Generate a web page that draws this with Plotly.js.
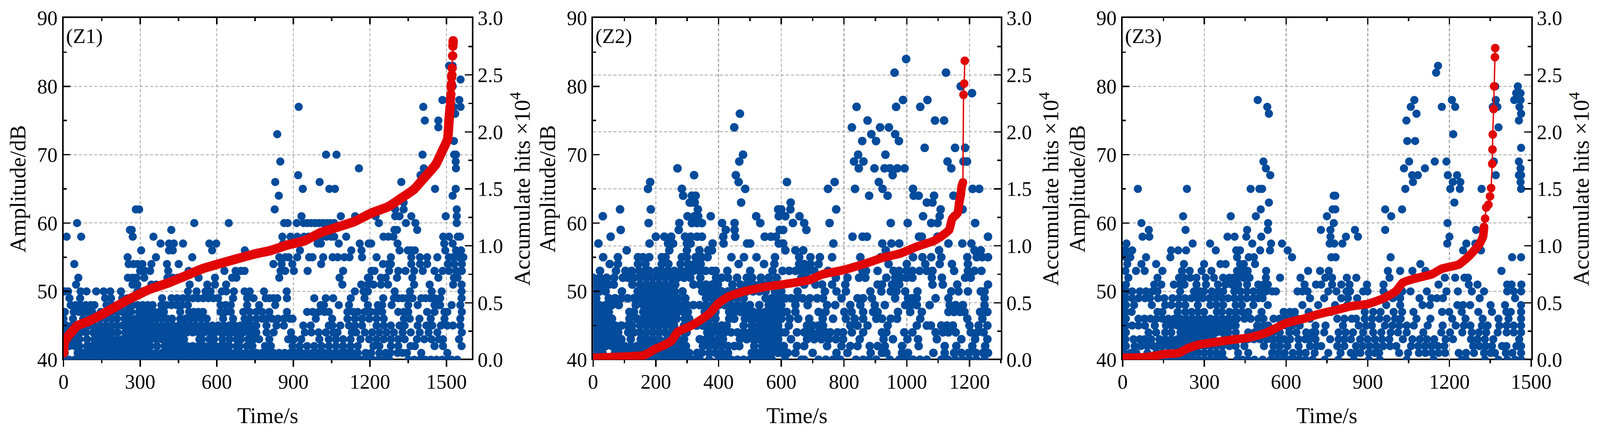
<!DOCTYPE html>
<html><head><meta charset="utf-8"><script src="https://cdn.plot.ly/plotly-3.0.1.min.js"></script>
<style>html,body{margin:0;padding:0;background:#fff;overflow:hidden}#c{width:100vw;height:1115px;display:block}</style></head>
<body><div id="c"></div>
<script>
// ---- Panel Z1: event times (s) per amplitude level (dB)
const a1_40=[0,22,44,66,88,110,132,154,176,198,220,242,264,286,308,330,352,374,396,418,440,462,484,506,528,550,572,594,616,638,660,682,704,726,748,770,792,814,836,858,880,902,924,946,968,990,1012,1034,1056,1078,1100,1122,1144,1166,1188,1210,1232,1254,1276,1351,1373,1395,1417,1439,1461,1483,1505,1520,1542];
const a1_41=[5,55,77,99,121,143,165,187,209,231,253,275,297,319,341,363,385,407,429,451,473,495,517,539,561,583,605,627,649,671,693,715,737,756,778,800,822,844,866,888,910,932,954,976,998,1020,1042,1064,1086,1108,1130,1152,1183,1205,1237,1262,1280,1308,1328,1345,1401,1503];
const a1_42=[0,22,44,62,92,110,132,154,176,198,220,242,264,286,308,330,340,366,396,418,440,462,484,506,528,550,572,594,616,638,650,678,690,718,740,789,812,897,925,954,982,1010,1039,1067,1095,1124,1152,1214,1237,1282,1311,1359,1376,1453,1486,1559];
const a1_43=[11,33,55,62,92,121,143,165,187,209,231,253,275,297,319,341,363,385,407,429,451,472,532,541,571,590,622,650,678,695,724,744,766,806,880,903,931,1002,1039,1067,1095,1124,1163,1197,1226,1254,1282,1311,1336,1384,1413,1441,1470,1486,1549];
const a1_44=[0,22,44,66,88,116,132,154,176,190,212,242,264,286,308,330,352,374,392,416,440,462,484,506,528,550,572,594,616,638,660,682,704,726,740,755,795,823,891,945,971,999,1027,1056,1073,1129,1146,1180,1209,1237,1265,1294,1328,1360,1395,1430,1464,1560];
const a1_45=[11,33,55,77,99,121,143,165,187,209,231,253,275,297,319,341,363,385,407,429,451,473,495,517,539,561,583,605,627,649,671,693,715,737,755,795,834,863,939,968,1039,1053,1084,1118,1141,1169,1226,1254,1282,1316,1336,1387,1421,1444,1478,1503,1525,1554];
const a1_46=[0,37,77,100,122,144,166,188,210,240,262,284,306,329,345,365,385,405,425,457,477,497,517,540,561,625,664,709,729,755,778,795,817,840,863,886,897,988,1052,1112,1141,1169,1197,1226,1254,1333,1356,1394,1438,1492,1554];
const a1_47=[5,40,60,78,96,112,146,190,210,230,250,265,295,315,335,355,375,393,457,492,510,528,546,615,635,655,704,729,755,778,806,875,954,976,999,1022,1039,1112,1135,1152,1180,1203,1226,1248,1311,1333,1350,1424,1453,1492,1503,1560];
const a1_48=[28,47,67,87,107,121,168,190,210,230,250,270,290,310,330,349,383,403,423,443,463,487,615,635,655,719,766,829,1007,1020,1078,1118,1192,1231,1248,1285,1350,1387,1453,1470,1475,1520,1554];
const a1_49=[23,65,163,186,230,250,270,386,423,445,467,487,507,527,547,567,587,605,664,719,744,792,806,822,837,875,982,1027,1056,1125,1179,1252,1294,1311,1328,1345,1367,1401,1418,1436,1453,1475,1559];
const a1_50=[5,18,67,90,128,157,183,225,289,305,320,487,521,556,576,620,637,667,709,729,785,874,1141,1175,1192,1297,1357,1442,1481,1559];
const a1_51=[49,270,289,344,363,393,494,563,593,637,1092,1166,1192,1214,1243,1271,1373,1434,1526,1559];
const a1_52=[58,252,270,285,316,407,428,447,467,529,593,660,677,845,1081,1192,1198,1243,1262,1306,1366,1468,1529,1543];
const a1_53=[300,319,339,410,490,630,674,694,709,850,868,902,956,1095,1206,1218,1275,1311,1339,1373,1407,1453,1485,1510,1538,1560];
const a1_54=[42,255,274,290,309,344,405,451,623,822,854,896,1009,1251,1272,1282,1362,1396,1424,1505,1530,1560];
const a1_55=[251,362,504,704,845,869,882,915,962,975,1017,1054,1074,1100,1120,1169,1226,1282,1362,1396,1424,1464,1509,1526,1549,1566];
const a1_56=[304,413,428,582,710,926,1127,1167,1316,1348,1361,1376,1495,1537,1557];
const a1_57=[380,413,432,468,571,598,860,995,1008,1078,1160,1195,1205,1308,1491,1524];
const a1_58=[12,69,271,352,857,889,915,942,960,978,995,1012,1030,1048,1060,1107,1253,1272,1292,1487,1510,1544,1553];
const a1_59=[260,267,422,1296,1306,1385];
const a1_60=[53,512,647,864,878,913,940,955,970,985,1000,1015,1030,1045,1060,1235,1341,1378,1540];
const a1_61=[932,1086,1142,1222,1299,1316,1362,1497,1540];
const a1_62=[283,296,827,1299,1332,1540];
const a1_63=[1332];
const a1_64=[843,1524];
const a1_65=[937,1041,1063,1455,1536];
const a1_66=[829,1003,1323];
const a1_67=[919,1398];
const a1_68=[1157,1411,1537];
const a1_69=[849,1536];
const a1_70=[1028,1069,1406,1530,1537];
const a1_71=[];
const a1_72=[1529];
const a1_73=[837];
const a1_74=[1468];
const a1_75=[1415,1468];
const a1_76=[1534];
const a1_77=[921,1409,1528,1555];
const a1_78=[1484,1550];
const a1_79=[];
const a1_80=[1524];
const a1_81=[1555];
const a1_82=[];
const a1_83=[1510,1524];
const z1Rows=[a1_40,a1_41,a1_42,a1_43,a1_44,a1_45,a1_46,a1_47,a1_48,a1_49,a1_50,a1_51,a1_52,a1_53,a1_54,a1_55,a1_56,a1_57,a1_58,a1_59,a1_60,a1_61,a1_62,a1_63,a1_64,a1_65,a1_66,a1_67,a1_68,a1_69,a1_70,a1_71,a1_72,a1_73,a1_74,a1_75,a1_76,a1_77,a1_78,a1_79,a1_80,a1_81,a1_82,a1_83];
const z1BandTime=[0,3,12,55,95,148,200,247,300,333,413,492,545,598,677,757,810,876,942,1008,1074,1140,1206,1272,1325,1372,1411,1458,1484,1504,1510,1514];
const z1BandHits=[0.06,0.15,0.19,0.30,0.335,0.395,0.46,0.52,0.58,0.615,0.677,0.75,0.80,0.835,0.885,0.933,0.958,1.007,1.043,1.117,1.165,1.214,1.288,1.344,1.422,1.495,1.593,1.715,1.837,1.935,2.106,2.216];
const z1TopTime=[1514,1515,1516,1517,1518,1519,1520,1521,1522,1524,1525,1526,1526];
const z1TopHits=[2.216,2.26,2.30,2.33,2.39,2.42,2.48,2.50,2.56,2.668,2.753,2.78,2.80];

// ---- Panel Z2
const a2_40=[0,20,40,60,80,100,120,140,160,180,200,220,240,260,280,300,320,340,370,400,420,440,460,480,500,520,540,560,570,612,664,673,719,742,765,788,838,861,880,903,946,976,998,1020,1042,1064,1110,1132,1155,1178,1200,1222,1248];
const a2_41=[10,30,70,90,110,130,150,170,190,210,230,250,270,290,306,332,346,370,390,410,430,506,510,530,550,570,590,604,620,645,700,776,811,885,921,935,985,1004,1085,1121,1151,1174,1197,1220,1243,1259];
const a2_42=[0,20,40,60,80,100,120,140,160,180,200,220,240,260,280,296,350,370,390,410,430,450,466,514,540,560,580,600,608,650,673,746,792,820,843,882,907,930,985,1038,1121,1158,1209,1250];
const a2_43=[10,30,50,70,90,120,152,170,190,210,236,250,270,290,340,360,376,398,414,468,490,510,530,550,570,590,631,682,705,728,751,774,797,850,926,956,1002,1036,1096,1174,1218,1257];
const a2_44=[0,20,40,60,80,112,130,150,170,190,210,230,250,270,290,298,364,380,400,420,440,460,480,500,520,540,560,580,600,613,650,673,696,719,742,756,779,797,825,861,921,935,992,1018,1092,1115,1133,1156,1204,1225,1245];
const a2_45=[10,30,50,70,90,110,124,150,170,190,210,230,250,258,290,310,330,350,370,390,410,426,480,506,530,550,570,590,624,682,700,719,733,820,843,875,939,1032,1064,1077,1110,1128,1147,1200,1229,1257];
const a2_46=[0,20,40,60,116,140,160,180,200,220,240,260,266,292,306,352,370,390,434,450,484,500,520,540,560,580,600,627,654,689,732,765,806,834,861,903,921,949,969,1043,1193,1241];
const a2_47=[10,30,50,116,130,160,170,190,210,230,250,270,290,302,356,370,390,434,450,470,490,510,530,550,570,590,604,617,645,719,741,801,824,861,893,907,972,1011,1048,1133,1151,1170,1184,1234,1257];
const a2_48=[0,20,40,60,82,136,160,180,200,220,240,260,280,300,320,340,360,380,400,420,440,460,480,500,530,560,580,600,645,684,746,772,820,852,898,930,995,1013,1032,1073,1137,1156,1179,1248];
const a2_49=[10,50,70,90,110,130,150,170,190,210,230,250,270,294,360,380,400,420,440,460,480,550,570,590,613,631,650,668,691,714,733,792,843,861,889,963,1004,1018,1032,1092,1133,1248];
const a2_50=[0,20,40,92,142,160,180,200,220,240,260,285,348,370,390,410,430,450,470,490,510,530,550,580,600,652,739,776,806,884,919,949,967,995,1034,1142,1165,1195,1236,1248];
const a2_51=[10,30,50,66,125,150,170,190,210,230,250,262,320,340,360,380,398,444,470,490,510,530,550,570,590,673,709,730,762,804,907,921,953,976,1082,1115,1161,1259];
const a2_52=[0,22,43,67,95,111,130,150,170,190,210,230,250,270,290,310,342,392,410,430,459,490,507,535,560,585,664,680,774,811,848,868,935,963,981,999,1018,1080,1112,1186,1204];
const a2_53=[22,73,103,123,147,167,179,203,219,239,259,279,299,319,339,359,379,391,428,501,572,604,625,645,664,686,705,749,859,870,907,958,976,999,1018,1041,1064,1082,1151,1195,1216,1238];
const a2_54=[53,79,143,167,219,240,279,303,323,343,464,545,578,657,673,693,719,942,1000,1059,1105,1144,1195];
const a2_55=[32,79,143,159,179,219,231,283,299,327,347,365,441,481,521,580,657,693,723,762,852,917,1020,1050,1078,1110,1193,1223,1241,1259];
const a2_56=[107,243,299,339,367,379,613,645,670,933,1103,1216,1236];
const a2_57=[17,180,239,255,299,311,381,416,491,501,592,606,766,922,951,976,1133,1177,1206];
const a2_58=[56,200,227,249,293,311,331,347,415,453,547,567,583,827,859,873,1039,1048,1098,1259];
const a2_59=[88,273,423,451,595,606,680];
const a2_60=[177,275,315,331,347,411,451,533,637,673,754,949,1003,1078,1098,1218];
const a2_61=[31,301,323,335,375,520,592,613,658,1052,1105,1151];
const a2_62=[86,184,334,590,600,629,775,1108,1174,1178];
const a2_63=[308,313,324,472,630,1064,1082,1167];
const a2_64=[287,315,327,880,939,1022,1038,1087,1149];
const a2_65=[175,283,485,749,835,923,1020,1210,1231];
const a2_66=[182,464,618,770,911];
const a2_67=[322,455,955];
const a2_68=[269,847,897,929,947,970,993,1142];
const a2_69=[466,832,862,1130,1181,1192];
const a2_70=[478,845,932];
const a2_71=[1057,1154,1186];
const a2_72=[858,902,975];
const a2_73=[887,963];
const a2_74=[450,825,915,943];
const a2_75=[875,1090,1119];
const a2_76=[468];
const a2_77=[840,966,1043];
const a2_78=[988,1066];
const a2_79=[1208];
const a2_80=[1172];
const a2_81=[];
const a2_82=[961,1125];
const a2_83=[];
const a2_84=[998];
const z2Rows=[a2_40,a2_41,a2_42,a2_43,a2_44,a2_45,a2_46,a2_47,a2_48,a2_49,a2_50,a2_51,a2_52,a2_53,a2_54,a2_55,a2_56,a2_57,a2_58,a2_59,a2_60,a2_61,a2_62,a2_63,a2_64,a2_65,a2_66,a2_67,a2_68,a2_69,a2_70,a2_71,a2_72,a2_73,a2_74,a2_75,a2_76,a2_77,a2_78,a2_79,a2_80,a2_81,a2_82,a2_83,a2_84];
const z2BandTime=[0,67,120,163,195,228,249,270,303,335,372,399,432,485,550,614,689,732,797,872,925,979,1033,1086,1108,1135,1145,1162,1167,1172,1175,1179];
const z2BandHits=[0.017,0.024,0.03,0.04,0.09,0.13,0.164,0.244,0.286,0.335,0.408,0.494,0.555,0.603,0.64,0.665,0.70,0.75,0.787,0.848,0.897,0.933,0.994,1.043,1.08,1.14,1.239,1.288,1.373,1.446,1.52,1.556];
const z2TopTime=[1179,1181,1183,1185];
const z2TopHits=[1.556,2.326,2.424,2.624];

// ---- Panel Z3
const a3_40=[0,20,40,60,80,100,120,140,160,180,200,220,240,260,280,300,320,340,360,373,420,440,460,484,514,544,566,588,610,632,650,672,697,742,792,849,904,944,1043,1142,1245,1261,1330,1380,1412,1441,1463];
const a3_41=[5,30,50,91,124,146,168,190,212,234,256,278,300,322,344,366,424,461,549,572,595,625,650,672,705,755,800,838,857,873,904,926,942,1015,1048,1088,1112,1136,1160,1184,1234,1261,1290,1327,1351,1367,1407,1431,1463];
const a3_42=[0,12,44,67,90,113,128,146,168,190,212,234,256,278,300,322,344,366,392,415,447,519,554,577,605,646,688,713,729,788,814,857,882,907,932,957,982,1005,1059,1085,1109,1133,1157,1181,1287,1310,1333,1356,1393,1409,1446,1463];
const a3_43=[0,10,40,63,81,105,135,157,179,201,223,245,267,289,311,333,373,395,420,438,460,482,504,530,549,571,593,615,646,670,685,708,762,793,814,838,872,899,926,952,979,1029,1064,1091,1117,1144,1186,1213,1279,1303,1330,1361,1456];
const a3_44=[0,12,95,123,156,179,212,234,256,278,300,322,344,366,388,415,461,484,507,530,553,577,612,638,674,697,708,740,793,819,846,883,920,950,984,1011,1043,1104,1170,1202,1247,1282,1308,1335,1377,1410,1436,1463];
const a3_45=[0,12,35,58,82,118,159,179,201,223,245,267,289,311,333,355,377,399,415,494,517,535,577,600,623,650,708,745,809,867,894,915,963,990,1016,1043,1069,1120,1175,1223,1253,1277,1319,1340,1383,1410,1436,1463];
const a3_46=[0,12,58,80,102,124,146,168,190,212,234,256,278,300,322,344,366,388,410,420,447,470,498,517,554,576,598,620,642,664,688,788,814,841,857,889,916,943,970,1000,1021,1079,1130,1210,1259,1322,1380,1417,1463];
const a3_47=[0,12,33,128,146,202,230,253,276,299,346,364,392,415,438,461,510,591,614,632,683,766,889,920,947,995,1026,1068,1173,1199,1245,1306,1356,1409,1425,1463];
const a3_48=[0,12,42,107,156,179,206,230,276,322,345,369,415,438,480,533,660,718,780,825,968,1019,1101,1128,1229,1250,1276,1351,1404,1463];
const a3_49=[0,12,35,58,82,100,130,153,183,206,229,252,275,294,318,341,364,387,410,433,456,480,498,514,688,740,803,827,861,992,1019,1090,1133,1154,1176,1311,1441];
const a3_50=[0,14,35,63,86,109,128,211,262,285,299,327,350,369,410,433,456,480,503,526,549,563,642,660,679,755,785,822,835,883,899,958,1027,1057,1117,1189,1231,1282,1327,1412,1436,1463];
const a3_51=[12,116,142,188,211,227,271,306,350,378,401,424,457,498,517,533,668,710,729,769,803,833,897,958,1160,1271,1303,1412,1428,1464];
const a3_52=[21,128,207,225,248,271,305,335,369,392,409,424,443,466,526,578,653,744,769,823,858,980,1183,1221,1255,1268];
const a3_53=[10,49,81,146,218,246,290,326,420,438,459,527,681,725,757,974,1019,1064,1112,1391];
const a3_54=[17,69,123,225,299,359,378,431,445,486,1093];
const a3_55=[12,28,86,175,420,463,482,622,766,782,984,1430,1463];
const a3_56=[5,12,35,178,204,233,342,417,431,505,541,606,1250,1316];
const a3_57=[14,257,321,476,545,585,760,777,807,1192,1262,1295];
const a3_58=[73,98,385,411,454,509,763,820,864,1200];
const a3_59=[96,231,457,533,728,763,853,964,1298];
const a3_60=[69,534,775,1193];
const a3_61=[222,397,489,750,986];
const a3_62=[507,771,781,964,1026];
const a3_63=[537,1218];
const a3_64=[775,781];
const a3_65=[56,236,470,502,512,1038,1203,1238,1318,1463];
const a3_66=[1066,1212,1240,1461];
const a3_67=[542,1063,1084,1194,1228,1370,1455,1463];
const a3_68=[526,1033,1110,1461];
const a3_69=[517,1052,1146,1189,1363,1455];
const a3_70=[];
const a3_71=[1463];
const a3_72=[1045,1074];
const a3_73=[1214];
const a3_74=[1380];
const a3_75=[1042,1455];
const a3_76=[537,1079,1463];
const a3_77=[531,1058,1172,1221,1359,1376,1457];
const a3_78=[496,1071,1209,1370,1438,1461];
const a3_79=[1445,1461];
const a3_80=[1368,1451];
const a3_81=[];
const a3_82=[1151];
const a3_83=[1158];
const z3Rows=[a3_40,a3_41,a3_42,a3_43,a3_44,a3_45,a3_46,a3_47,a3_48,a3_49,a3_50,a3_51,a3_52,a3_53,a3_54,a3_55,a3_56,a3_57,a3_58,a3_59,a3_60,a3_61,a3_62,a3_63,a3_64,a3_65,a3_66,a3_67,a3_68,a3_69,a3_70,a3_71,a3_72,a3_73,a3_74,a3_75,a3_76,a3_77,a3_78,a3_79,a3_80,a3_81,a3_82,a3_83];
const z3BandTime=[0,93,155,205,242,279,329,403,465,527,601,663,713,775,837,899,961,1004,1029,1073,1135,1172,1234,1271,1308,1323,1327];
const z3BandHits=[0.017,0.024,0.05,0.059,0.103,0.132,0.151,0.176,0.195,0.237,0.322,0.359,0.396,0.432,0.469,0.489,0.542,0.603,0.677,0.713,0.75,0.799,0.836,0.909,1.007,1.08,1.165];
const z3TopTime=[1327,1331,1335,1343,1349,1353,1357,1358,1359,1362,1364,1367,1368];
const z3TopHits=[1.165,1.239,1.336,1.361,1.434,1.507,1.72,1.845,1.977,2.2,2.4,2.656,2.736];

const panelNames=['(Z1)','(Z2)','(Z3)'];
const xMaxes=[1600,1300,1500];
const xSteps=[300,200,300];
const xTitleText='Time/s';
const yTitleText='Amplitude/dB';
const y2TitleText='Accumulate hits ×10<sup>4</sup>';

// the window may be narrower than the design width; fit the figure to it
const W0=4230,W=window.innerWidth||W0,H=1115,TOP=46,BOT=920;
const lefts=[168,1568,2968], rights=[1248,2646,4048];
const markerSizes=[21,22,21], bandSizes=[24,22,22];
const BLUE='#034b9b',RED='#e10505',FONT='"Liberation Serif","Times New Roman",serif';
const allRows=[z1Rows,z2Rows,z3Rows];
const bands=[[z1BandTime,z1BandHits,z1TopTime,z1TopHits],[z2BandTime,z2BandHits,z2TopTime,z2TopHits],[z3BandTime,z3BandHits,z3TopTime,z3TopHits]];
const traces=[],annotations=[],shapes=[];
const layout={width:W,height:H,margin:{l:0,r:0,t:0,b:0},paper_bgcolor:'#fff',plot_bgcolor:'#fff',showlegend:false,hovermode:false,font:{family:FONT,color:'#000'}};
const axLine={showline:true,linecolor:'#000',linewidth:4,zeroline:false,tickcolor:'#000',tickwidth:3.5,tickfont:{family:FONT,size:52,color:'#000'}};
const gridStyle={gridcolor:'#a6a6a6',griddash:'8px,5px'};
for(let p=0;p<3;p++){
  const xa=p?'x'+(p+1):'x', ya=p*2?'y'+(p*2+1):'y', yb='y'+(p*2+2), xt='x'+(p+4);
  const xs=[],ys=[];
  allRows[p].forEach((row,i)=>row.forEach(t=>{xs.push(t);ys.push(40+i);}));
  traces.push({type:'scatter',mode:'markers',x:xs,y:ys,xaxis:xa,yaxis:ya,marker:{color:BLUE,size:markerSizes[p],line:{width:0}},name:'Amplitude'});
  const b=bands[p];
  traces.push({type:'scatter',mode:'lines',x:b[2],y:b[3],xaxis:xa,yaxis:yb,line:{color:RED,width:3.5},showlegend:false});
  traces.push({type:'scatter',mode:'lines+markers',x:b[0],y:b[1],xaxis:xa,yaxis:yb,line:{color:RED,width:bandSizes[p],shape:'spline',smoothing:0.5},marker:{color:RED,size:bandSizes[p],line:{width:0}},name:'Hits'});
  traces.push({type:'scatter',mode:'markers',x:b[2],y:b[3],xaxis:xa,yaxis:yb,marker:{color:RED,size:bandSizes[p],line:{width:0}},showlegend:false});
  traces.push({type:'scatter',mode:'markers',x:[0],y:[40],xaxis:xt,yaxis:ya,marker:{size:1,opacity:0},showlegend:false});
  const xk=p?'xaxis'+(p+1):'xaxis', yk=p*2?'yaxis'+(p*2+1):'yaxis', y2k='yaxis'+(p*2+2), xtk='xaxis'+(p+4);
  const dom=[lefts[p]/W0,rights[p]/W0];
  layout[xk]=Object.assign({},axLine,gridStyle,{linewidth:1.2,gridwidth:2.5,domain:dom,anchor:ya,range:[0,xMaxes[p]],dtick:xSteps[p],tick0:0,ticks:'outside',ticklen:17,showgrid:true,
    minor:{dtick:xSteps[p]/2,ticks:'outside',ticklen:8,tickwidth:3.5,tickcolor:'#000',showgrid:false},
    title:{text:xTitleText,font:{family:FONT,size:57,color:'#000'},standoff:38},ticklabelstandoff:-7});
  layout[xtk]=Object.assign({},axLine,{domain:dom,anchor:ya,overlaying:xa,side:'top',range:[0,xMaxes[p]],dtick:xSteps[p],tick0:0,ticks:'inside',ticklen:16,showgrid:false,showticklabels:false,
    minor:{dtick:xSteps[p]/2,ticks:'inside',ticklen:8,tickwidth:3.5,tickcolor:'#000',showgrid:false}});
  layout[yk]=Object.assign({},axLine,gridStyle,{gridwidth:2,domain:[1-BOT/H,1-TOP/H],anchor:xa,range:[40,90],dtick:10,tick0:40,ticks:'inside',ticklen:17,showgrid:p!==1,
    minor:{dtick:5,ticks:'inside',ticklen:8,tickwidth:3.5,tickcolor:'#000',showgrid:false},
    title:{text:yTitleText,font:{family:FONT,size:57,color:'#000'},standoff:12},ticklabelstandoff:1});
  layout[y2k]=Object.assign({},axLine,gridStyle,{gridwidth:2,domain:[1-BOT/H,1-TOP/H],anchor:xa,overlaying:ya,side:'right',range:[0,3],dtick:0.5,tick0:0,tickformat:'.1f',ticks:'inside',ticklen:18,showgrid:p===1,
    minor:{dtick:0.25,ticks:'inside',ticklen:9,tickwidth:3.5,tickcolor:'#000',showgrid:false},
    title:{text:y2TitleText,font:{family:FONT,size:57,color:'#000'},standoff:30},ticklabelstandoff:0});
  annotations.push({xref:'paper',yref:'paper',x:(lefts[p]+4)/W0,y:1-93/H,xanchor:'left',yanchor:'middle',text:panelNames[p],showarrow:false,font:{family:FONT,size:53,color:'#000'}});
  // bottom frame edge sits under the markers, as in the reference
  shapes.push({type:'rect',layer:'below',xref:'paper',yref:'paper',x0:(lefts[p]-2)/W0,x1:(rights[p]+2)/W0,y0:1-921/H,y1:1-917/H,fillcolor:'#000',line:{width:0}});
}
layout.annotations=annotations;
layout.shapes=shapes;
Plotly.newPlot('c',traces,layout,{displayModeBar:false,staticPlot:true});
</script></body></html>
